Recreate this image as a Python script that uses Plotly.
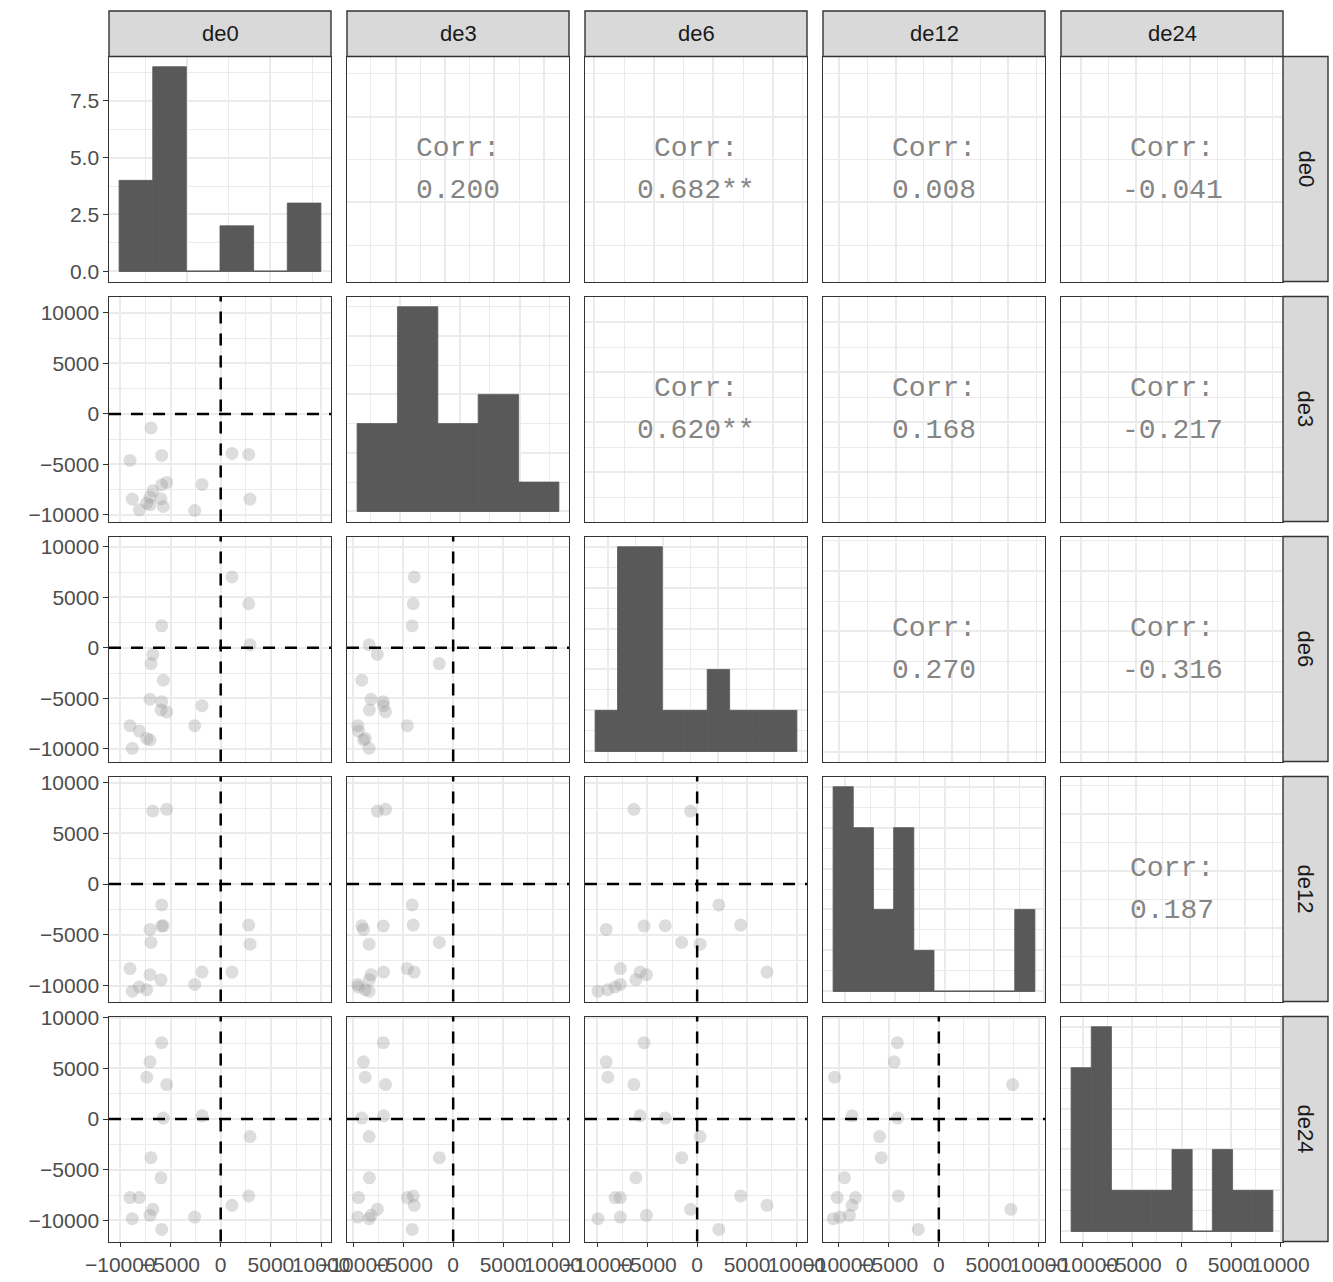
import numpy as np
import plotly.graph_objects as go

W, H = 1333, 1282
names = ["de0", "de3", "de6", "de12", "de24"]

de0 = [-6942, -9034, -5877, 1125, 2789, -5379, -5877, -1863, -6760, -8804,
       -5946, 2918, -7040, -7370, -7042, -8107, -5717, -2590]
de3 = [-1389, -4603, -4107, -3908, -4008, -6785, -7014, -6983, -7609, -8432,
       -8402, -8432, -8234, -8829, -8998, -9494, -9166, -9563]
de6 = [-1554, -7705, 2182, 7010, 4363, -6346, -5325, -5721, -661, -9947,
       -6148, 298, -5087, -8962, -9124, -8234, -3203, -7705]
de12 = [-5754, -8333, -2053, -8670, -4037, 7371, -4140, -8670, 7202, -10555,
        -9424, -5922, -8928, -10416, -4464, -10158, -4107, -9890]
de24 = [-3809, -7738, -10882, -8501, -7579, 3403, 7539, 327, -8898, -9821,
        -5793, -1726, -9493, 4127, 5654, -7738, 99, -9662]
series = {"de0": de0, "de3": de3, "de6": de6, "de12": de12, "de24": de24}

# correlation labels (upper triangle)
corr_labels = {(0, 1): "0.200", (0, 2): "0.682**", (0, 3): "0.008", (0, 4): "-0.041",
               (1, 2): "0.620**", (1, 3): "0.168", (1, 4): "-0.217",
               (2, 3): "0.270", (2, 4): "-0.316", (3, 4): "0.187"}

# histogram bins of the diagonal panels
hist_start = {"de0": -9090, "de3": -11160, "de6": -11170, "de12": -11225, "de24": -11170}
hist_width = {"de0": 2020, "de3": 2024, "de6": 2031, "de12": 2032, "de24": 2040}
hist_nbins = {"de0": 6, "de3": 5, "de6": 9, "de12": 10, "de24": 10}

# tick labels
value_ticks = [-10000, -5000, 0, 5000, 10000]
value_tick_labels = ["\u221210000", "\u22125000", "0", "5000", "10000"]
count_ticks = [0, 2.5, 5, 7.5]
count_tick_labels = ["0.0", "2.5", "5.0", "7.5"]

# ---- styling / layout constants ----
scatter_range = {"de0": [-11125, 10986], "de3": [-10650, 11620], "de6": [-11250, 11020],
                 "de12": [-11576, 10612], "de24": [-12072, 10120]}
hist_x_grid = {"de0": (5000, 2500), "de3": (3000, 1500), "de6": (5000, 2500),
               "de12": (5000, 2500), "de24": (5000, 2500)}
hist_y_grid = {"de0": (2.5, 1.25), "de3": (2, 1), "de6": (1, 0.5), "de12": (1, 0.5), "de24": (1, 0.5)}
corr_grid = {"de0": (5000, 2500), "de3": (2000, 1000), "de6": (5000, 2500),
             "de12": (5000, 2500), "de24": (5000, 2500)}

col_left = [109, 347, 585, 823, 1061]
row_top = [56.5, 296.5, 536.5, 776.5, 1016.5]
PW, PH = 222, 225
STRIP_TOP = 11
STRIP_W = 45

BORDER = "#333333"
GRID = "#ebebeb"
BARCOL = "#595959"
TICKFONT = dict(family="Liberation Sans, Arial, sans-serif", size=21, color="#4d4d4d")
STRIPFONT = dict(family="Liberation Sans, Arial, sans-serif", size=22, color="#1a1a1a")
CORRFONT = dict(family="Liberation Mono, DejaVu Sans Mono, monospace", size=28, color="#858585")


def px_x(p):
    return p / W


def px_y(p):
    return 1 - p / H


def ticks_in(lo, hi, step):
    start = np.ceil(lo / step) * step
    return [float(v) for v in np.arange(start, hi + 1e-9, step)]


def expand(lo, hi, f=0.05):
    d = hi - lo
    return [lo - f * d, hi + f * d]


def make_axis(domain, rng, major, minor, anchor, tickvals=None, ticktext=None):
    majors = ticks_in(rng[0], rng[1], major) if tickvals is None else tickvals
    minors = [v for v in ticks_in(rng[0], rng[1], minor)
              if all(abs(v - m) > 1e-6 for m in majors)]
    ax = dict(domain=domain, range=rng, anchor=anchor, autorange=False, automargin=False,
              showline=True, mirror=True, linecolor=BORDER, linewidth=1.4,
              showgrid=True, gridcolor=GRID, gridwidth=2, zeroline=False,
              tickmode="array", tickvals=majors, fixedrange=True, tickangle=0,
              minor=dict(tickmode="array", tickvals=minors, showgrid=True,
                         gridcolor=GRID, gridwidth=1.1, ticks=""))
    if ticktext is not None:
        ax.update(showticklabels=True, ticktext=ticktext, ticks="outside", ticklen=4.5,
                  tickwidth=1.4, tickcolor=BORDER, tickfont=TICKFONT)
    else:
        ax.update(showticklabels=False, ticks="")
    return ax


fig = go.Figure()
layout = dict(width=W, height=H, margin=dict(l=0, r=0, t=0, b=0, autoexpand=False),
              paper_bgcolor="white", plot_bgcolor="white", showlegend=False,
              shapes=[], annotations=[])

for r, rv in enumerate(names):
    for c, cv in enumerate(names):
        k = r * 5 + c + 1
        xs = "x" if k == 1 else f"x{k}"
        ys = "y" if k == 1 else f"y{k}"
        xdom = [px_x(col_left[c]), px_x(col_left[c] + PW)]
        ydom = [px_y(row_top[r] + PH), px_y(row_top[r])]

        xt = xtt = None
        yt = ytt = None
        if r == c:
            s0, w0, n0 = hist_start[cv], hist_width[cv], hist_nbins[cv]
            edges = s0 + w0 * np.arange(n0 + 1)
            counts, _ = np.histogram(series[cv], bins=edges)
            centers = (edges[:-1] + edges[1:]) / 2
            xr = expand(edges[0], edges[-1])
            yr = expand(0, counts.max())
            xg, xm = hist_x_grid[cv]
            yg, ym = hist_y_grid[cv]
            fig.add_trace(go.Scatter(x=[edges[0], edges[-1]], y=[0, 0], mode="lines",
                                     line=dict(color=BARCOL, width=1.2),
                                     xaxis=xs, yaxis=ys, hoverinfo="skip"))
            fig.add_trace(go.Bar(x=centers, y=counts, width=w0, marker_color=BARCOL,
                                 marker_line=dict(color=BARCOL, width=0.8),
                                 xaxis=xs, yaxis=ys))
            if r == 4:
                xt, xtt = value_ticks, value_tick_labels
            if c == 0:
                yt, ytt = count_ticks, count_tick_labels
        elif r > c:
            xr = scatter_range[cv]
            yr = scatter_range[rv]
            xg, xm = 5000, 2500
            yg, ym = 5000, 2500
            fig.add_trace(go.Scatter(x=series[cv], y=series[rv], mode="markers",
                                     marker=dict(size=13, color="rgb(150,150,150)",
                                                 opacity=0.32, line=dict(width=0)),
                                     xaxis=xs, yaxis=ys))
            dash = dict(color="black", width=2.5, dash="12px,10px")
            layout["shapes"].append(dict(type="line", xref=f"{xs} domain", x0=0, x1=1,
                                         yref=ys, y0=0, y1=0, line=dash))
            layout["shapes"].append(dict(type="line", yref=f"{ys} domain", y0=0, y1=1,
                                         xref=xs, x0=0, x1=0, line=dash))
            if r == 4:
                xt, xtt = value_ticks, value_tick_labels
            if c == 0:
                yt, ytt = value_ticks, value_tick_labels
        else:
            xr = expand(min(series[cv]), max(series[cv]))
            yr = expand(min(series[rv]), max(series[rv]))
            xg, xm = corr_grid[cv]
            yg, ym = corr_grid[rv]
            fig.add_trace(go.Scatter(x=[None], y=[None], xaxis=xs, yaxis=ys, mode="markers"))
            for txt, shift in (("Corr:", 21), (corr_labels[(r, c)], -21)):
                layout["annotations"].append(dict(
                    text=txt, xref=f"{xs} domain", yref=f"{ys} domain", x=0.5, y=0.5,
                    yshift=shift, showarrow=False, font=CORRFONT,
                    xanchor="center", yanchor="middle"))

        if xt is not None:
            xt = [v for v in xt if xr[0] <= v <= xr[1]]
            xtt = [value_tick_labels[value_ticks.index(v)] for v in xt]
        if yt is not None:
            yt = [v for v in yt if yr[0] <= v <= yr[1]]
            if r == 0:
                ytt = [count_tick_labels[count_ticks.index(v)] for v in yt]
            else:
                ytt = [value_tick_labels[value_ticks.index(v)] for v in yt]

        layout["xaxis" if k == 1 else f"xaxis{k}"] = make_axis(xdom, xr, xg, xm, ys, xt, xtt)
        layout["yaxis" if k == 1 else f"yaxis{k}"] = make_axis(ydom, yr, yg, ym, xs, yt, ytt)

# strips
for c, name in enumerate(names):
    x0, x1 = col_left[c], col_left[c] + PW
    layout["shapes"].append(dict(type="rect", xref="paper", yref="paper",
                                 x0=px_x(x0), x1=px_x(x1), y0=px_y(row_top[0]), y1=px_y(STRIP_TOP),
                                 fillcolor="#d9d9d9", line=dict(color=BORDER, width=1.4), layer="above"))
    layout["annotations"].append(dict(text=name, xref="paper", yref="paper",
                                      x=px_x((x0 + x1) / 2), y=px_y((row_top[0] + STRIP_TOP) / 2),
                                      showarrow=False, font=STRIPFONT, xanchor="center", yanchor="middle"))
for r, name in enumerate(names):
    y0, y1 = row_top[r], row_top[r] + PH
    xl = col_left[4] + PW
    layout["shapes"].append(dict(type="rect", xref="paper", yref="paper",
                                 x0=px_x(xl), x1=px_x(xl + STRIP_W), y0=px_y(y1), y1=px_y(y0),
                                 fillcolor="#d9d9d9", line=dict(color=BORDER, width=1.4), layer="above"))
    layout["annotations"].append(dict(text=name, xref="paper", yref="paper",
                                      x=px_x(xl + STRIP_W / 2), y=px_y((y0 + y1) / 2), textangle=90,
                                      showarrow=False, font=STRIPFONT, xanchor="center", yanchor="middle"))

fig.update_layout(**layout)
fig.write_html("out.html", config={"displayModeBar": False},
               post_script="document.body.style.margin='0';document.body.style.overflow='hidden';")
